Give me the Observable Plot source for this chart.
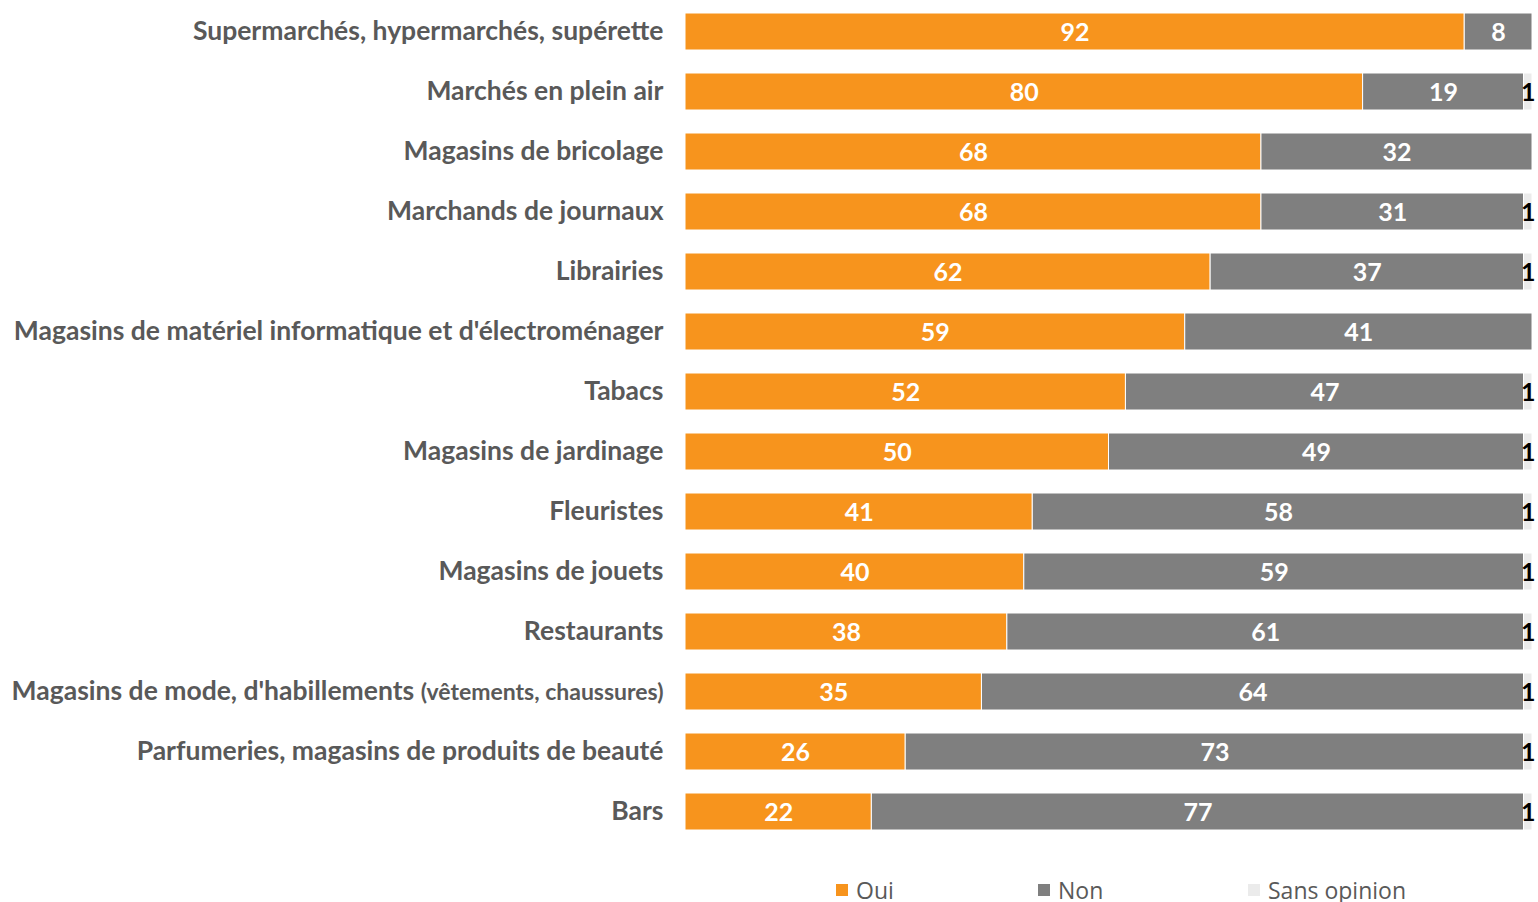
<!DOCTYPE html>
<html>
<head>
<meta charset="utf-8">
<script src="https://cdn.jsdelivr.net/npm/d3@7"></script>
<script src="https://cdn.jsdelivr.net/npm/@observablehq/plot@0.6"></script>
<style>
  html, body { margin: 0; padding: 0; background: #fff; }
  #wrap { position: relative; width: 1538px; height: 902px; overflow: hidden; }
  .leg { position: absolute; top: 874px; font-family: "Open Sans", sans-serif; font-size: 23px; color: #595959; display: flex; align-items: center; white-space: nowrap; }
  .leg i { display: inline-block; width: 12px; height: 12px; margin-right: 8px; }
</style>
</head>
<body>
<div id="wrap"></div>
<script>
const categories = [
  "Supermarchés, hypermarchés, supérette",
  "Marchés en plein air",
  "Magasins de bricolage",
  "Marchands de journaux",
  "Librairies",
  "Magasins de matériel informatique et d'électroménager",
  "Tabacs",
  "Magasins de jardinage",
  "Fleuristes",
  "Magasins de jouets",
  "Restaurants",
  "Magasins de mode, d'habillements (vêtements, chaussures)",
  "Parfumeries, magasins de produits de beauté",
  "Bars"
];
const series = ["Oui", "Non", "Sans opinion"];
const oui = [92, 80, 68, 68, 62, 59, 52, 50, 41, 40, 38, 35, 26, 22];
const non = [8, 19, 32, 31, 37, 41, 47, 49, 58, 59, 61, 64, 73, 77];
const sansOpinion = [0, 1, 0, 1, 1, 0, 1, 1, 1, 1, 1, 1, 1, 1];
const colors = ["#F7941D", "#7F7F7F", "#EBEBEB"];
const textColors = ["#FFFFFF", "#FFFFFF", "#000000"];

const data = [];
categories.forEach((c, i) => {
  [oui, non, sansOpinion].forEach((arr, j) => {
    data.push({cat: c, series: series[j], value: arr[i]});
  });
});
const labelData = data.filter(d => d.value > 0);

const font = "Lato, 'Open Sans', sans-serif";

const chart = Plot.plot({
  width: 1538,
  height: 850,
  marginLeft: 685,
  marginRight: 6,
  marginTop: 5,
  marginBottom: 12,
  style: {fontFamily: font, background: "#fff"},
  x: {domain: [0, 100], axis: null},
  y: {domain: categories, paddingInner: 0.38, paddingOuter: 0.1, label: null},
  color: {domain: series, range: colors},
  marks: [
    Plot.barX(data, Plot.stackX({x: "value", y: "cat", fill: "series", z: "series", order: series, stroke: "#fff", strokeWidth: 1})),
    Plot.text(labelData, Plot.stackX({
      x: "value", y: "cat", z: "series", order: series,
      text: d => String(d.value),
      fill: d => textColors[series.indexOf(d.series)],
      fontSize: 25, fontWeight: "bold", fontFamily: font, dy: 1
    })),
    Plot.axisY({tickSize: 0, tickPadding: 22, fontSize: 26.5, fontWeight: "bold", color: "#595959", label: null})
  ]
});
document.getElementById("wrap").appendChild(chart);

// Make the parenthetical part of the long label smaller
chart.querySelectorAll("text").forEach(t => {
  const s = t.textContent;
  const k = s.indexOf(" (vêtements");
  if (k > 0) {
    const a = s.slice(0, k + 1), b = s.slice(k + 1);
    while (t.firstChild) t.removeChild(t.firstChild);
    const ns = "http://www.w3.org/2000/svg";
    const t1 = document.createElementNS(ns, "tspan"); t1.textContent = a;
    const t2 = document.createElementNS(ns, "tspan"); t2.textContent = b; t2.setAttribute("font-size", "23");
    t.appendChild(t1); t.appendChild(t2);
  }
});

// Legend
const legendPos = [836, 1038, 1248];
series.forEach((s, i) => {
  const el = document.createElement("div");
  el.className = "leg";
  el.style.left = legendPos[i] + "px";
  const sw = document.createElement("i");
  sw.style.background = colors[i];
  el.appendChild(sw);
  el.appendChild(document.createTextNode(s));
  document.getElementById("wrap").appendChild(el);
});
</script>
</body>
</html>
